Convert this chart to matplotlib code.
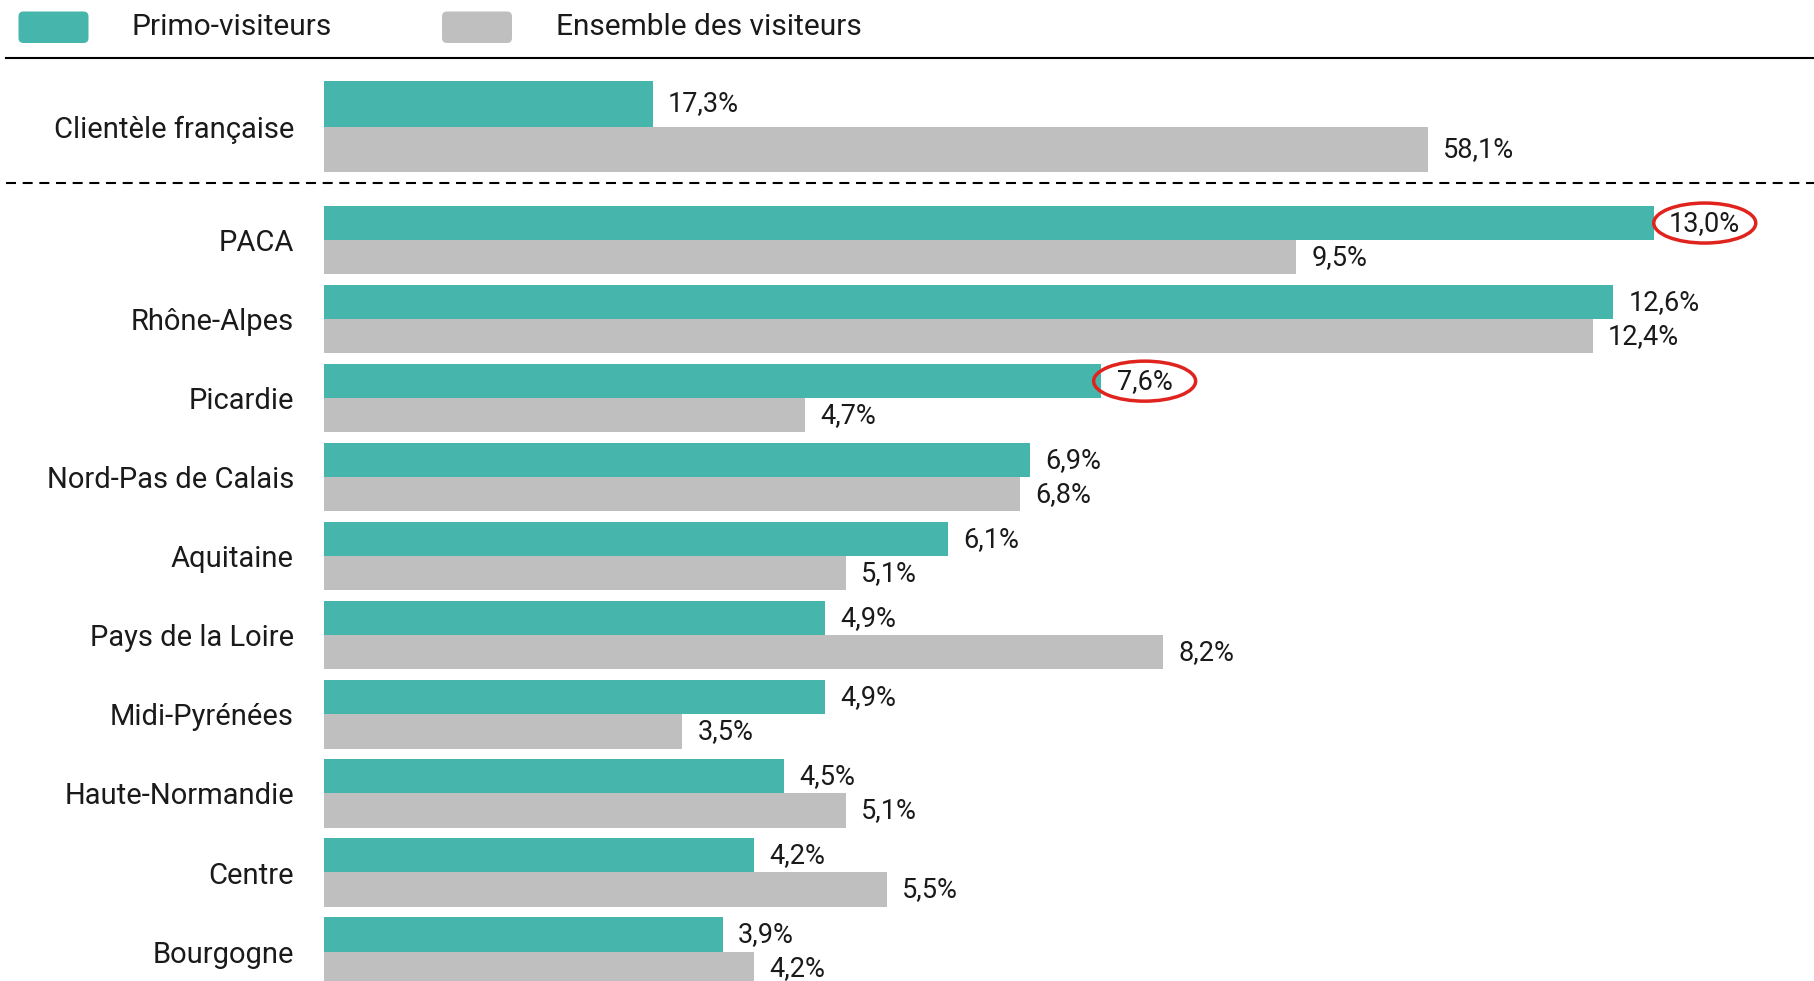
import matplotlib
matplotlib.use("Agg")
import matplotlib.pyplot as plt
from matplotlib.patches import FancyBboxPatch, Ellipse
from matplotlib.lines import Line2D
from matplotlib.transforms import IdentityTransform

plt.rcParams['font.family'] = ['Roboto', 'DejaVu Sans']

# ---- data ----
series_names = ["Primo-visiteurs", "Ensemble des visiteurs"]
top_category = "Clientèle française"
top_primo = 17.3
top_ensemble = 58.1
regions = ["PACA", "Rhône-Alpes", "Picardie", "Nord-Pas de Calais", "Aquitaine",
           "Pays de la Loire", "Midi-Pyrénées", "Haute-Normandie", "Centre", "Bourgogne"]
primo = [13.0, 12.6, 7.6, 6.9, 6.1, 4.9, 4.9, 4.5, 4.2, 3.9]
ensemble = [9.5, 12.4, 4.7, 6.8, 5.1, 8.2, 3.5, 5.1, 5.5, 4.2]
highlighted = ["PACA", "Picardie"]

GREEN = "#46B6AC"
GREY = "#BFBFBF"
RED = "#E0231C"
TXT = "#1a1a1a"

W, H = 1814, 981
fig = plt.figure(figsize=(W / 100, H / 100), dpi=100)

def fx(px):
    return px / W

def fy(py):
    return 1 - py / H

def fmt(v):
    return f"{v:.1f}".replace(".", ",") + "%"

LABEL_FS = 21
VALUE_FS = 19.5
LEGEND_FS = 21.5
left_px = 324

# ---- top axes (Clientèle française) ----
top_unit = 45.5
ax_t = fig.add_axes([fx(left_px), fy(180), 1 - fx(left_px), (180 - 60) / H])
ax_t.set_xlim(0, (W - left_px) / 19.0)
ax_t.set_ylim(-0.5 + 99 / top_unit, -0.5 - 21 / top_unit)
ax_t.barh([0], [top_primo], height=1.0, color=GREEN, left=0)
ax_t.barh([1], [top_ensemble], height=1.0, color=GREY, left=0)
for yy, v in [(0, top_primo), (1, top_ensemble)]:
    ax_t.annotate(fmt(v), (v, yy), xytext=(11.0, 0), textcoords="offset points",
                  va="center", ha="left", fontsize=VALUE_FS, color=TXT)
ax_t.set_yticks([0.5])
ax_t.set_yticklabels([top_category], fontsize=LABEL_FS, color=TXT)

# ---- bottom axes (regions) ----
pitch = 79.05
bh = 34.1 / pitch
ax_b = fig.add_axes([fx(left_px), 0, 1 - fx(left_px), (H - 200) / H])
ax_b.set_xlim(0, (W - left_px) / 102.3)
y_top = -bh - 6 / pitch
y_bot = -bh + (H - 206) / pitch
ax_b.set_ylim(y_bot, y_top)
idx = list(range(len(regions)))
ax_b.barh([i - bh / 2 for i in idx], primo, height=bh, color=GREEN)
ax_b.barh([i + bh / 2 for i in idx], ensemble, height=bh, color=GREY)
texts = {}
for i, (r, p, e) in enumerate(zip(regions, primo, ensemble)):
    t = ax_b.annotate(fmt(p), (p, i - bh / 2), xytext=(11.0, 0), textcoords="offset points",
                      va="center", ha="left", fontsize=VALUE_FS, color=TXT)
    texts[r] = t
    ax_b.annotate(fmt(e), (e, i + bh / 2), xytext=(11.0, 0), textcoords="offset points",
                  va="center", ha="left", fontsize=VALUE_FS, color=TXT)
ax_b.set_yticks(idx)
ax_b.set_yticklabels(regions, fontsize=LABEL_FS, color=TXT)

for ax in (ax_t, ax_b):
    for s in ax.spines.values():
        s.set_visible(False)
    ax.tick_params(axis="y", length=0, pad=21.6)
    ax.set_xticks([])
    ax.patch.set_alpha(0)

# ---- separators ----
fig.add_artist(Line2D([fx(6), 1], [fy(58), fy(58)], color="black", lw=1.5))
fig.add_artist(Line2D([fx(6), 1], [fy(183), fy(183)], color="black", lw=1.5,
                      linestyle=(0, (4.8, 3.2))))

# ---- legend ----
for x0, col, name, tx in [(18.5, GREEN, series_names[0], 131), (442, GREY, series_names[1], 556)]:
    fig.add_artist(FancyBboxPatch((fx(x0 + 5), fy(43 - 5)), fx(70 - 10), (31.5 - 10) / H,
                                  boxstyle=f"round,pad={5 / W}", facecolor=col, edgecolor="none",
                                  transform=fig.transFigure, mutation_aspect=W / H))
    fig.text(fx(tx), fy(27), name, fontsize=LEGEND_FS, va="center", ha="left", color=TXT)

# ---- highlight ellipses ----
fig.canvas.draw()
for r in highlighted:
    bb = texts[r].get_window_extent()
    cx = (bb.x0 + bb.x1) / 2
    cy = (bb.y0 + bb.y1) / 2
    e = Ellipse((cx, cy), max(bb.width + 22, 102), 40, transform=IdentityTransform(),
                fill=False, edgecolor=RED, lw=2.5)
    fig.add_artist(e)

fig.savefig("out.png", dpi=100)
